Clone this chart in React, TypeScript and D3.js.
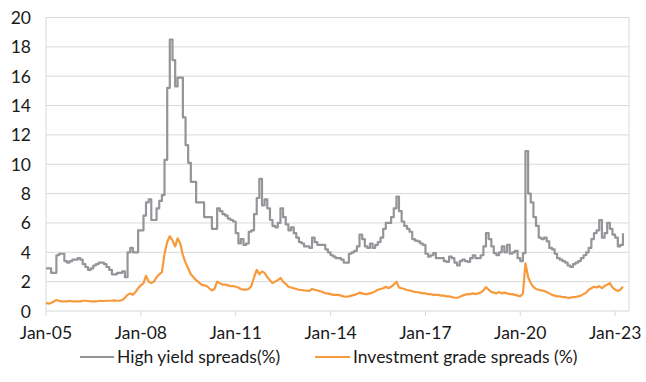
import React from "react";
import * as d3 from "d3";

const startMonth = new Date(2005, 0, 1);
const endMonth = new Date(2023, 4, 1);
const months: Date[] = d3.timeMonth.range(startMonth, endMonth);

const highYield: number[] = [
  // 2005
  2.9, 2.9, 2.6, 2.6, 3.8, 3.9, 3.9, 3.4, 3.3, 3.4, 3.5, 3.5,
  // 2006
  3.6, 3.5, 3.2, 3.0, 2.8, 2.9, 3.1, 3.2, 3.3, 3.3, 3.2, 3.0,
  // 2007
  2.8, 2.5, 2.5, 2.6, 2.6, 2.7, 2.3, 4.0, 4.3, 4.0, 4.0, 5.5,
  // 2008
  5.5, 6.5, 7.4, 7.6, 6.2, 6.2, 7.0, 7.5, 7.9, 10.3, 15.2, 18.5,
  // 2009
  17.1, 15.3, 15.9, 15.9, 13.2, 11.3, 10.1, 8.8, 8.8, 7.4, 7.4, 7.4,
  // 2010
  6.4, 6.4, 6.4, 5.6, 5.6, 7.0, 6.8, 6.6, 6.5, 6.3, 6.2, 6.1,
  // 2011
  5.3, 4.6, 4.9, 4.5, 4.6, 5.4, 5.5, 6.6, 7.7, 9.0, 7.2, 7.6,
  // 2012
  7.0, 6.2, 5.8, 5.7, 6.0, 7.0, 6.4, 5.9, 5.5, 5.7, 5.3, 5.0,
  // 2013
  4.7, 4.6, 4.4, 4.4, 4.3, 5.0, 4.7, 4.5, 4.5, 4.5, 4.2, 4.0,
  // 2014
  3.8, 3.7, 3.6, 3.6, 3.5, 3.3, 3.3, 3.9, 4.0, 4.1, 4.4, 5.2,
  // 2015
  4.9, 4.4, 4.3, 4.6, 4.3, 4.5, 4.7, 5.0, 5.6, 6.0, 6.0, 6.4,
  // 2016
  7.0, 7.8, 6.8, 6.1, 5.8, 5.6, 5.4, 4.9, 4.8, 4.75, 4.6, 4.5,
  // 2017
  3.9, 3.7, 3.8, 3.95, 3.6, 3.6, 3.6, 3.4, 3.35, 3.7, 3.6, 3.3,
  // 2018
  3.1, 3.4, 3.5, 3.4, 3.35, 3.6, 3.8, 3.6, 3.6, 3.8, 4.4, 5.3,
  // 2019
  4.9, 4.4, 3.95, 3.8, 4.0, 4.4, 4.0, 4.5, 3.9, 4.0, 4.1, 3.6,
  // 2020
  3.4, 3.95, 10.9, 8.0, 7.4, 6.4, 5.8, 5.0, 4.9, 5.0, 4.75, 4.3,
  // 2021
  4.2, 3.9, 3.6, 3.5, 3.4, 3.3, 3.1, 3.0, 3.2, 3.3, 3.4, 3.6,
  // 2022
  3.8, 4.0, 4.3, 4.9, 5.3, 5.5, 6.2, 5.0, 5.3, 6.0, 5.6, 5.2,
  // 2023
  5.0, 4.4, 4.5, 5.3,
];

const investmentGrade: number[] = [
  // 2005
  0.55, 0.5, 0.55, 0.65, 0.75, 0.7, 0.65, 0.65, 0.65, 0.7, 0.65, 0.65,
  // 2006
  0.65, 0.65, 0.7, 0.7, 0.68, 0.65, 0.65, 0.65, 0.68, 0.7, 0.68, 0.7,
  // 2007
  0.7, 0.7, 0.72, 0.7, 0.7, 0.75, 0.9, 1.1, 1.2, 1.1, 1.3, 1.55,
  // 2008
  1.75, 1.9, 2.4, 2.0, 1.9, 2.0, 2.3, 2.5, 2.65, 3.9, 4.7, 5.1,
  // 2009
  4.8, 4.4, 4.95, 4.6, 3.8, 3.3, 2.9, 2.5, 2.3, 2.1, 1.95, 1.8,
  // 2010
  1.75, 1.7, 1.55, 1.4, 1.5, 2.0, 1.9, 1.8, 1.8, 1.75, 1.7, 1.7,
  // 2011
  1.65, 1.6, 1.5, 1.45, 1.45, 1.5, 1.7, 2.3, 2.8, 2.5, 2.7, 2.6,
  // 2012
  2.3, 2.1, 1.9, 2.0, 2.1, 2.25, 2.0, 1.85, 1.65, 1.6, 1.55, 1.5,
  // 2013
  1.45, 1.43, 1.4, 1.38, 1.37, 1.5, 1.45, 1.4, 1.35, 1.3, 1.2, 1.2,
  // 2014
  1.15, 1.1, 1.1, 1.1, 1.05, 1.0, 0.97, 1.0, 1.05, 1.1, 1.15, 1.25,
  // 2015
  1.2, 1.15, 1.15, 1.2, 1.25, 1.35, 1.45, 1.5, 1.55, 1.65, 1.55, 1.65,
  // 2016
  1.8, 2.0, 1.6, 1.55, 1.5, 1.43, 1.4, 1.35, 1.3, 1.28, 1.25, 1.2,
  // 2017
  1.2, 1.15, 1.15, 1.1, 1.1, 1.1, 1.05, 1.05, 1.0, 1.0, 0.95, 0.92,
  // 2018
  0.9, 0.95, 1.05, 1.1, 1.15, 1.15, 1.2, 1.15, 1.2, 1.25, 1.4, 1.63,
  // 2019
  1.45, 1.3, 1.25, 1.2, 1.3, 1.2, 1.25, 1.2, 1.15, 1.15, 1.1, 1.05,
  // 2020
  1.0, 1.2, 3.25, 2.3, 1.9, 1.65, 1.5, 1.45, 1.4, 1.37, 1.3, 1.2,
  // 2021
  1.1, 1.05, 1.0, 1.0, 0.95, 0.95, 0.9, 0.9, 0.95, 0.95, 1.0, 1.05,
  // 2022
  1.15, 1.25, 1.45, 1.55, 1.65, 1.6, 1.7, 1.55, 1.7, 1.8, 1.9, 1.6,
  // 2023
  1.45, 1.37, 1.45, 1.65,
];

const yTicks: number[] = [0, 2, 4, 6, 8, 10, 12, 14, 16, 18, 20];
const xTickYears: number[] = [2005, 2008, 2011, 2014, 2017, 2020, 2023];
const seriesNames: string[] = ["High yield spreads(%)", "Investment grade spreads (%)"];
const seriesColors: string[] = ["#939598", "#f79a3c"];

const W = 646;
const H = 382;
const FONT = "Lato, 'Open Sans', sans-serif";
const FS = 17.5;

export default function App() {
  const left = 46;
  const right = 629;
  const top = 17.5;
  const bottom = 311;

  const x = d3
    .scaleTime()
    .domain([new Date(2005, 0, 1), new Date(2023, 5, 10)])
    .range([left, right]);
  const y = d3.scaleLinear().domain([0, 20]).range([bottom, top]);

  const hyLine = d3
    .line<number>()
    .x((_, i) => x(months[i]))
    .y((d) => y(d))
    .curve(d3.curveStepAfter);
  const igLine = d3
    .line<number>()
    .x((_, i) => x(months[i]))
    .y((d) => y(d));

  const fmt = d3.timeFormat("%b-%y");

  return (
    <svg
      width={W}
      height={H}
      style={{ position: "absolute", left: 0, top: 0, background: "#fff" }}
      fontFamily={FONT}
    >
      {yTicks.map((t) => (
        <g key={t}>
          <line x1={left} x2={right} y1={y(t)} y2={y(t)} stroke="#d9d9d9" strokeWidth={1} />
          <text
            x={31}
            y={y(t)}
            textAnchor="end"
            dominantBaseline="central"
            fontSize={FS}
            fill="#1a1a1a"
          >
            {t}
          </text>
        </g>
      ))}
      <line x1={left} x2={left} y1={top} y2={bottom} stroke="#d9d9d9" />
      <line x1={right} x2={right} y1={top} y2={bottom} stroke="#d9d9d9" />
      {xTickYears.map((yr) => {
        const d = new Date(yr, 0, 1);
        const xx = x(d);
        return (
          <g key={yr}>
            <line x1={xx} x2={xx} y1={bottom} y2={bottom + 5} stroke="#d9d9d9" />
            <text x={xx} y={339} textAnchor="middle" fontSize={FS} fill="#1a1a1a">
              {fmt(d)}
            </text>
          </g>
        );
      })}
      <path d={hyLine(highYield) || ""} fill="none" stroke={seriesColors[0]} strokeWidth={2.2} strokeLinejoin="round" />
      <path d={igLine(investmentGrade) || ""} fill="none" stroke={seriesColors[1]} strokeWidth={2.2} strokeLinejoin="round" />
      <g>
        <line x1={80} x2={114} y1={357} y2={357} stroke={seriesColors[0]} strokeWidth={2} />
        <text x={117} y={363} fontSize={FS} fill="#1a1a1a">
          {seriesNames[0]}
        </text>
        <line x1={315} x2={350} y1={357} y2={357} stroke={seriesColors[1]} strokeWidth={2} />
        <text x={353} y={363} fontSize={FS} fill="#1a1a1a">
          {seriesNames[1]}
        </text>
      </g>
    </svg>
  );
}
